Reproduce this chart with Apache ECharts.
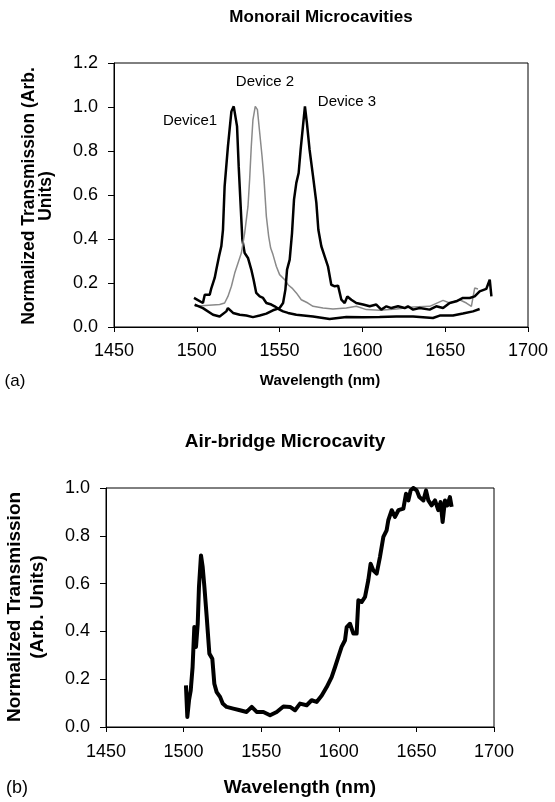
<!DOCTYPE html>
<html><head><meta charset="utf-8">
<script src="https://cdn.jsdelivr.net/npm/echarts@6/dist/echarts.min.js"></script>
<style>html,body{margin:0;padding:0;background:#fff;}#c{width:555px;height:802px;}</style>
</head><body><div id="c"></div>
<script>
// ---- Data (a) Monorail Microcavities ----
const xTicks = [1450, 1500, 1550, 1600, 1650, 1700];
const yTicksA = [0.0, 0.2, 0.4, 0.6, 0.8, 1.0, 1.2];
const yTicksB = [0.0, 0.2, 0.4, 0.6, 0.8, 1.0];

const dev1Wl = [1498.3,1503.7,1504.8,1507.8,1508.8,1510.8,1511.8,1513.4,1514.8,1515.8,1516.8,1517.8,1518.8,1519.8,1520.9,1522.3,1523.5,1524.3,1525.3,1526.5,1527.5,1528.9,1530.9,1532.9,1534.3,1535.9,1538.0,1540.0,1542.0,1545.0,1547.0,1550.0,1552.1,1555.1,1560.1,1570.2,1580.2,1590.3,1600.4,1610.4,1620.5,1630.6,1642.6,1646.7,1654.7,1660.7,1666.8,1670.8];
const dev1T  = [0.132,0.109,0.147,0.147,0.177,0.223,0.261,0.321,0.367,0.442,0.639,0.730,0.821,0.897,0.980,1.003,0.995,0.912,0.730,0.548,0.397,0.336,0.314,0.261,0.215,0.155,0.139,0.132,0.109,0.102,0.094,0.079,0.071,0.064,0.056,0.048,0.036,0.045,0.044,0.045,0.048,0.048,0.041,0.052,0.052,0.061,0.071,0.082];

const dev2Wl = [1498.7,1513.8,1516.8,1518.8,1520.9,1522.9,1524.9,1526.9,1528.9,1530.9,1531.9,1532.9,1533.9,1535.3,1536.6,1538.0,1539.4,1540.6,1542.0,1543.4,1544.6,1546.0,1548.0,1550.0,1553.1,1555.1,1557.5,1560.1,1563.1,1567.1,1570.2,1576.2,1582.2,1590.3,1596.3,1602.4,1610.4,1620.5,1630.6,1640.6,1648.7,1652.7,1658.7,1662.8,1665.8,1667.8,1669.8];
const dev2T  = [0.094,0.102,0.109,0.139,0.185,0.245,0.291,0.336,0.427,0.548,0.670,0.821,0.942,1.003,0.988,0.882,0.776,0.670,0.503,0.412,0.359,0.329,0.276,0.238,0.215,0.192,0.177,0.155,0.124,0.109,0.094,0.086,0.082,0.086,0.094,0.079,0.076,0.082,0.091,0.094,0.121,0.109,0.124,0.109,0.094,0.177,0.173];

const dev3Wl = [1498.7,1503.7,1509.8,1513.8,1517.8,1518.8,1521.9,1525.9,1529.9,1533.9,1538.0,1542.0,1546.0,1550.0,1552.1,1553.5,1554.5,1556.1,1557.5,1558.7,1560.1,1561.5,1562.7,1564.1,1565.3,1566.5,1568.1,1570.2,1572.2,1573.4,1575.2,1577.2,1579.2,1581.2,1583.3,1585.3,1587.3,1589.3,1590.9,1593.3,1596.3,1600.4,1604.4,1608.4,1611.4,1614.5,1617.5,1621.5,1625.5,1627.5,1630.6,1634.6,1640.6,1644.6,1648.7,1652.7,1656.7,1660.7,1664.8,1667.8,1670.8,1674.8,1676.9,1677.9];
const dev3T  = [0.102,0.086,0.056,0.048,0.071,0.086,0.064,0.056,0.052,0.045,0.052,0.061,0.076,0.086,0.109,0.170,0.261,0.306,0.427,0.579,0.655,0.700,0.806,0.912,1.003,0.927,0.806,0.685,0.564,0.442,0.367,0.321,0.276,0.192,0.185,0.188,0.124,0.109,0.139,0.124,0.109,0.102,0.094,0.102,0.079,0.094,0.086,0.094,0.086,0.094,0.079,0.086,0.079,0.094,0.086,0.109,0.117,0.132,0.132,0.139,0.162,0.173,0.215,0.139];

// ---- Data (b) Air-bridge Microcavity ----
const abWl = [1501.5,1502.4,1503.5,1504.6,1505.8,1506.9,1508.0,1509.1,1509.9,1511.2,1512.3,1513.4,1514.9,1516.6,1518.5,1519.8,1521.3,1523.5,1525.2,1527.7,1532.0,1536.3,1540.6,1543.9,1547.1,1551.4,1555.7,1560.0,1564.3,1568.6,1571.8,1575.0,1579.3,1582.5,1585.7,1589.0,1592.2,1595.4,1597.6,1599.7,1601.8,1604.0,1605.1,1607.2,1609.4,1611.5,1612.6,1614.7,1616.9,1619.0,1620.5,1622.2,1624.4,1626.5,1628.7,1630.8,1631.9,1634.1,1636.2,1638.4,1641.6,1643.3,1644.8,1646.3,1648.0,1650.2,1651.9,1654.5,1656.2,1657.7,1659.8,1662.0,1664.1,1665.6,1666.9,1668.4,1669.9,1671.6,1672.7];
const abT  = [0.174,0.042,0.112,0.153,0.251,0.418,0.335,0.432,0.586,0.718,0.669,0.586,0.460,0.307,0.286,0.181,0.146,0.126,0.098,0.084,0.077,0.070,0.063,0.084,0.063,0.063,0.049,0.063,0.086,0.084,0.070,0.098,0.091,0.112,0.105,0.132,0.167,0.209,0.251,0.293,0.335,0.363,0.418,0.432,0.391,0.391,0.530,0.523,0.544,0.614,0.683,0.656,0.642,0.711,0.795,0.823,0.865,0.907,0.879,0.907,0.914,0.976,0.948,0.990,1.000,0.990,0.962,0.948,0.990,0.948,0.927,0.948,0.907,0.941,0.858,0.948,0.927,0.962,0.921];

const pairs = (xs, ys) => xs.map((x, i) => [x, ys[i]]);
const FONT = '"Liberation Sans", Arial, sans-serif';

function xAxisCfg(gi, fs, margin) {
  return {
    type: 'value', gridIndex: gi, min: xTicks[0], max: xTicks[xTicks.length - 1], interval: 50,
    axisLine: { show: true, lineStyle: { color: '#000', width: 1 } },
    axisTick: { show: true, inside: false, length: 5, lineStyle: { color: '#000' } },
    axisLabel: { color: '#000', fontSize: fs, fontFamily: FONT, margin: margin, formatter: v => String(v) },
    splitLine: { show: false }
  };
}
function yAxisCfg(gi, ticks, fs, margin) {
  return {
    type: 'value', gridIndex: gi, min: ticks[0], max: ticks[ticks.length - 1], interval: 0.2,
    axisLine: { show: true, lineStyle: { color: '#000', width: 1 } },
    axisTick: { show: true, inside: false, length: 6, lineStyle: { color: '#000' } },
    axisLabel: { color: '#000', fontSize: fs, fontFamily: FONT, margin: margin, formatter: v => v.toFixed(1) },
    splitLine: { show: false }
  };
}
function txt(x, y, text, font, rot) {
  return { type: 'text', x: x, y: y, rotation: rot || 0, silent: true,
    style: { text: text, fill: '#000', font: font, align: 'center', verticalAlign: 'middle' } };
}

const chart = echarts.init(document.getElementById('c'), null, { renderer: 'canvas' });
chart.setOption({
  animation: false,
  backgroundColor: '#fff',
  grid: [
    { left: 114, top: 63, width: 414, height: 264, show: true, borderColor: '#000', borderWidth: 1, backgroundColor: 'transparent' },
    { left: 106, top: 488, width: 388, height: 239, show: true, borderColor: '#000', borderWidth: 1, backgroundColor: 'transparent' }
  ],
  xAxis: [xAxisCfg(0, 18, 15), xAxisCfg(1, 18, 16)],
  yAxis: [yAxisCfg(0, yTicksA, 18, 16), yAxisCfg(1, yTicksB, 18, 16)],
  series: [
    { name: 'Device1', type: 'line', xAxisIndex: 0, yAxisIndex: 0, data: pairs(dev1Wl, dev1T), showSymbol: false, symbol: 'none', lineStyle: { color: '#000', width: 2.5 } },
    { name: 'Device 2', type: 'line', xAxisIndex: 0, yAxisIndex: 0, data: pairs(dev2Wl, dev2T), showSymbol: false, symbol: 'none', lineStyle: { color: '#8a8a8a', width: 1.5 } },
    { name: 'Device 3', type: 'line', xAxisIndex: 0, yAxisIndex: 0, data: pairs(dev3Wl, dev3T), showSymbol: false, symbol: 'none', lineStyle: { color: '#000', width: 2.5 } },
    { name: 'Air-bridge', type: 'line', xAxisIndex: 1, yAxisIndex: 1, data: pairs(abWl, abT), showSymbol: false, symbol: 'none', lineStyle: { color: '#000', width: 4, join: 'round' } }
  ],
  graphic: [
    txt(321, 17, 'Monorail Microcavities', 'bold 17px ' + FONT),
    txt(29, 196, 'Normalized Transmission (Arb.', 'bold 17.5px ' + FONT, Math.PI / 2),
    txt(46, 196, 'Units)', 'bold 17.5px ' + FONT, Math.PI / 2),
    txt(190, 121, 'Device1', '15px ' + FONT),
    txt(265, 82, 'Device 2', '15px ' + FONT),
    txt(347, 102, 'Device 3', '15px ' + FONT),
    txt(15, 381, '(a)', '17px ' + FONT),
    txt(320, 381, 'Wavelength (nm)', 'bold 15px ' + FONT),
    txt(285, 442, 'Air-bridge Microcavity', 'bold 19px ' + FONT),
    txt(15, 607, 'Normalized Transmission', 'bold 19px ' + FONT, Math.PI / 2),
    txt(38, 607, '(Arb. Units)', 'bold 19px ' + FONT, Math.PI / 2),
    txt(17, 788, '(b)', '18px ' + FONT),
    txt(300, 788, 'Wavelength (nm)', 'bold 19px ' + FONT)
  ]
});
</script></body></html>
